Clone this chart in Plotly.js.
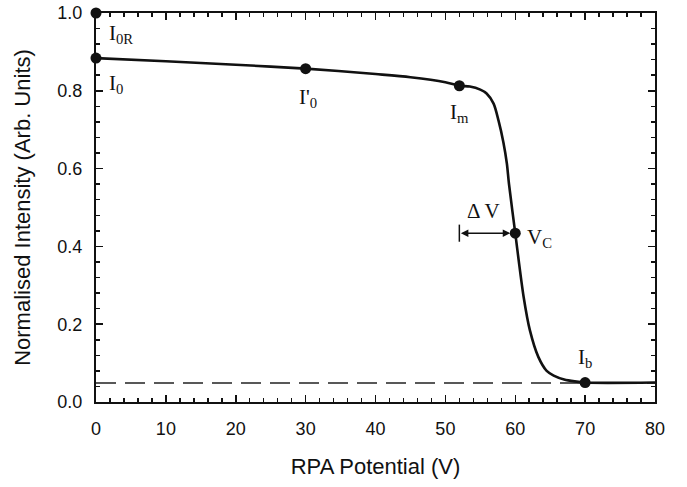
<!DOCTYPE html>
<html>
<head>
<meta charset="utf-8">
<script src="https://cdn.plot.ly/plotly-3.0.1.min.js"></script>
<style>html,body{margin:0;padding:0;background:#fff;}#chart{width:687px;height:487px;}</style>
</head>
<body>
<div id="chart"></div>
<script>
// Curve data (RPA potential in V, normalised intensity)
const curveX = [0, 10, 20, 30, 40, 45, 50, 52, 53.5, 55, 55.9, 56.9, 57.6, 58.3, 58.8, 59.1, 60, 61.2, 62.1, 63.3, 64.5, 65.5, 67, 68.5, 70, 80];
const curveY = [0.884, 0.876, 0.867, 0.857, 0.843, 0.835, 0.822, 0.813, 0.811, 0.803, 0.793, 0.767, 0.724, 0.668, 0.613, 0.561, 0.434, 0.27, 0.184, 0.116, 0.080, 0.068, 0.058, 0.053, 0.050, 0.050];
// Marked points
const pointX = [0, 0, 30, 52, 60, 70];
const pointY = [1.0, 0.884, 0.857, 0.813, 0.434, 0.05];
const pointLabels = ["I<sub>0R</sub>", "I<sub>0</sub>", "I'<sub>0</sub>", "I<sub>m</sub>", "V<sub>C</sub>", "I<sub>b</sub>"];
// Baseline (dashed)
const baseX = [0, 80];
const baseY = [0.049, 0.049];
// Delta V
const deltaVStart = 52;
const deltaVEnd = 60;
const deltaVLevel = 0.434;
const deltaVLabel = "\u0394 V";
// Axis titles
const xTitle = "RPA Potential (V)";
const yTitle = "Normalised Intensity (Arb. Units)";

const labelOffsets = [
  {xanchor:'left', xs:11, ys:-21},
  {xanchor:'left', xs:11, ys:-26},
  {xanchor:'center', xs:2, ys:-29},
  {xanchor:'center', xs:0, ys:-27},
  {xanchor:'left', xs:10, ys:-5},
  {xanchor:'center', xs:0, ys:25}
];

const traces = [
  {x: baseX, y: baseY, mode:'lines', line:{color:'#222', width:1.6, dash:'20px,9px'}, hoverinfo:'skip', showlegend:false},
  {x: curveX, y: curveY, mode:'lines', line:{color:'#111', width:2.6, shape:'spline', smoothing:0.8}, showlegend:false, cliponaxis:false},
  {x: pointX, y: pointY, mode:'markers', marker:{color:'#111', size:11}, showlegend:false, cliponaxis:false}
];

const serif = {family:'"Liberation Serif", "DejaVu Serif", serif', size:21, color:'#111'};
const annotations = pointLabels.map((t,i)=>({
  x: pointX[i], y: pointY[i], xref:'x', yref:'y', text:t, showarrow:false,
  xanchor: labelOffsets[i].xanchor, yanchor:'middle',
  xshift: labelOffsets[i].xs, yshift: labelOffsets[i].ys, font: serif
}));
annotations.push({
  x: (deltaVStart+deltaVEnd)/2 - 0.5, y: deltaVLevel, xref:'x', yref:'y', text: deltaVLabel, showarrow:false,
  yshift: 22, font: serif
});
annotations.push({
  x: deltaVEnd, y: deltaVLevel, ax: deltaVStart, ay: deltaVLevel, xref:'x', yref:'y', axref:'x', ayref:'y',
  text:'', showarrow:true, arrowhead:2, startarrowhead:2, arrowside:'end+start', arrowsize:1, arrowwidth:1.5,
  arrowcolor:'#111', standoff:5, startstandoff:0
});

const sans = '"Liberation Sans", Arial, sans-serif';
const axisCommon = {
  showline:true, linecolor:'#111', linewidth:2, mirror:'allticks', ticks:'inside', ticklen:7, tickwidth:1.5,
  tickcolor:'#111', showgrid:false, zeroline:false,
  tickfont:{family:sans, size:18, color:'#111'}
};

const layout = {
  width:687, height:487,
  margin:{l:96, r:32, t:13, b:85},
  paper_bgcolor:'#fff', plot_bgcolor:'#fff',
  xaxis: Object.assign({}, axisCommon, {
    range:[0,80], dtick:10, tick0:0,
    minor:{dtick:2, ticks:'inside', ticklen:4, tickwidth:1.5, tickcolor:'#111'},
    ticklabelstandoff: 9,
    title:{text:xTitle, font:{family:sans, size:22, color:'#111'}, standoff:21}
  }),
  yaxis: Object.assign({}, axisCommon, {
    range:[0,1], dtick:0.2, tick0:0, tickformat:'.1f',
    minor:{dtick:0.04, ticks:'inside', ticklen:4, tickwidth:1.5, tickcolor:'#111'},
    ticklabelstandoff: 8,
    title:{text:yTitle, font:{family:sans, size:22, color:'#111'}, standoff:21}
  }),
  shapes:[{type:'line', xref:'x', yref:'y', x0:deltaVStart, x1:deltaVStart, y0:deltaVLevel-0.022, y1:deltaVLevel+0.022, line:{color:'#111', width:1.5}}],
  annotations: annotations
};

Plotly.newPlot('chart', traces, layout, {staticPlot:true, displayModeBar:false});
</script>
</body>
</html>
